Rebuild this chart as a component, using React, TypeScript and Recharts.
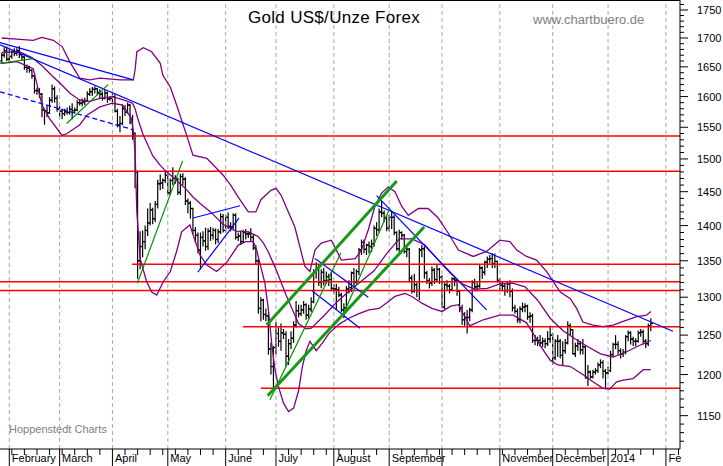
import React from 'react';
import { ComposedChart, XAxis, YAxis, Bar, Line, ReferenceLine } from 'recharts';

const W = 723;
const H = 466;
const FONT = '"Liberation Sans", Arial, sans-serif';
const X_DOMAIN: [number, number] = [-3.7, 266.6];
const Y_DOMAIN: [number, number] = [1111, 1768.2];

// trading-day index 0 = 1 Feb 2013; first bar = 29 Jan 2013
const FIRST_DAY = -3;

const opens = [
  1660, 1670, 1678,
  1663, 1668, 1676, 1673, 1678, 1671, 1667, 1649, 1648, 1644, 1635, 1610, 1610, 1604, 1578, 1576, 1573, 1594, 1613, 1597,
  1579, 1576, 1572, 1575, 1574, 1579, 1577, 1578, 1590, 1589, 1591, 1593, 1604, 1608, 1612, 1613, 1607, 1604, 1597, 1606, 1596,
  1597, 1600, 1576, 1554, 1556, 1580, 1574, 1586, 1562, 1540, 1480, 1350, 1370, 1377, 1393, 1404, 1423, 1410, 1431, 1462, 1463, 1467,
  1475, 1448, 1467, 1470, 1469, 1449, 1473, 1469, 1436, 1433, 1425, 1393, 1386, 1365, 1383, 1378, 1370, 1392, 1386, 1393, 1380, 1391, 1413,
  1393, 1412, 1399, 1398, 1415, 1383, 1385, 1377, 1390, 1388, 1388, 1383, 1368, 1350, 1285, 1296, 1277, 1275, 1232, 1210,
  1234, 1252, 1242, 1253, 1251, 1223, 1239, 1246, 1263, 1282, 1278, 1283, 1290, 1276, 1284, 1294, 1334, 1340, 1320, 1334, 1322, 1328, 1324,
  1312, 1311, 1310, 1303, 1283, 1286, 1311, 1313, 1333, 1320, 1335, 1365, 1376, 1366, 1372, 1370, 1374, 1396, 1394, 1420, 1418, 1411,
  1396, 1412, 1412, 1390, 1367, 1390, 1386, 1363, 1366, 1326, 1308, 1317, 1309, 1365, 1367, 1333, 1322, 1319, 1337, 1324, 1338,
  1327, 1287, 1317, 1315, 1310, 1325, 1323, 1308, 1286, 1270, 1273, 1273, 1283, 1320, 1314, 1315, 1340, 1334, 1348, 1352, 1353, 1346, 1349,
  1323, 1316, 1315, 1309, 1318, 1308, 1286, 1281, 1270, 1284, 1287, 1288, 1274, 1275, 1243, 1243, 1243, 1240, 1242, 1239, 1245,
  1250, 1221, 1242, 1242, 1224, 1230, 1240, 1262, 1257, 1226, 1236, 1239, 1231, 1235, 1196, 1203, 1197, 1203, 1205, 1212, 1215, 1204,
  1202, 1205, 1225, 1238, 1238, 1230, 1226, 1228, 1248, 1253, 1245, 1242, 1242, 1253, 1254, 1242, 1239, 1262,
];
const highs = [
  1674, 1684, 1685,
  1680, 1678, 1682, 1682, 1686, 1672, 1668, 1654, 1652, 1646, 1637, 1615, 1614, 1606, 1580, 1586, 1599, 1620, 1617, 1602,
  1584, 1580, 1580, 1582, 1585, 1589, 1582, 1594, 1596, 1597, 1598, 1609, 1614, 1616, 1617, 1614, 1612, 1608, 1611, 1608, 1600,
  1605, 1604, 1580, 1568, 1588, 1586, 1590, 1588, 1570, 1542, 1482, 1392, 1393, 1400, 1425, 1433, 1426, 1436, 1468, 1476, 1470, 1480,
  1478, 1470, 1487, 1475, 1471, 1477, 1478, 1472, 1440, 1436, 1426, 1398, 1390, 1390, 1392, 1397, 1396, 1398, 1397, 1396, 1395, 1418, 1417,
  1416, 1419, 1405, 1418, 1418, 1390, 1393, 1394, 1395, 1392, 1396, 1388, 1372, 1352, 1300, 1298, 1285, 1278, 1240, 1236,
  1267, 1260, 1265, 1258, 1255, 1245, 1255, 1268, 1295, 1290, 1290, 1295, 1292, 1290, 1300, 1338, 1348, 1345, 1338, 1340, 1335, 1332, 1335,
  1318, 1318, 1314, 1306, 1292, 1315, 1323, 1335, 1340, 1338, 1368, 1380, 1380, 1374, 1377, 1380, 1400, 1405, 1425, 1436, 1422, 1415,
  1416, 1420, 1415, 1392, 1394, 1392, 1388, 1370, 1368, 1330, 1332, 1320, 1368, 1372, 1370, 1336, 1326, 1342, 1340, 1344, 1340,
  1330, 1320, 1323, 1318, 1327, 1328, 1325, 1310, 1290, 1280, 1283, 1286, 1323, 1325, 1320, 1345, 1342, 1350, 1356, 1358, 1361, 1360, 1350,
  1326, 1322, 1318, 1322, 1323, 1312, 1290, 1285, 1288, 1293, 1292, 1290, 1280, 1278, 1250, 1248, 1250, 1247, 1246, 1255, 1262,
  1253, 1245, 1250, 1245, 1242, 1245, 1268, 1265, 1258, 1240, 1245, 1242, 1245, 1236, 1212, 1205, 1206, 1208, 1215, 1219, 1218, 1207,
  1210, 1230, 1240, 1250, 1242, 1233, 1232, 1250, 1256, 1255, 1248, 1246, 1256, 1258, 1257, 1245, 1265, 1272,
];
const lows = [
  1656, 1666, 1660,
  1658, 1664, 1668, 1669, 1665, 1660, 1645, 1640, 1640, 1630, 1605, 1603, 1598, 1566, 1554, 1566, 1572, 1590, 1590, 1575,
  1566, 1563, 1568, 1570, 1570, 1563, 1572, 1576, 1585, 1584, 1586, 1591, 1601, 1601, 1605, 1602, 1597, 1593, 1595, 1590, 1593,
  1590, 1574, 1550, 1542, 1553, 1568, 1572, 1555, 1530, 1455, 1325, 1338, 1355, 1366, 1385, 1400, 1402, 1405, 1425, 1452, 1454, 1463,
  1445, 1445, 1460, 1462, 1445, 1445, 1460, 1430, 1418, 1410, 1388, 1375, 1360, 1338, 1370, 1364, 1365, 1378, 1380, 1373, 1375, 1388, 1390,
  1390, 1395, 1392, 1395, 1380, 1378, 1372, 1375, 1380, 1382, 1378, 1365, 1345, 1278, 1268, 1270, 1268, 1225, 1200, 1180,
  1225, 1235, 1230, 1245, 1210, 1212, 1232, 1240, 1260, 1273, 1275, 1278, 1270, 1272, 1280, 1292, 1325, 1315, 1312, 1316, 1318, 1315, 1308,
  1305, 1283, 1300, 1280, 1272, 1284, 1305, 1307, 1315, 1317, 1330, 1358, 1360, 1358, 1360, 1362, 1370, 1385, 1390, 1412, 1405, 1392,
  1392, 1395, 1386, 1364, 1362, 1380, 1360, 1355, 1320, 1305, 1306, 1300, 1296, 1355, 1325, 1318, 1312, 1315, 1318, 1320, 1318,
  1286, 1284, 1310, 1305, 1308, 1315, 1302, 1280, 1263, 1262, 1252, 1268, 1280, 1308, 1308, 1312, 1325, 1330, 1340, 1346, 1340, 1340, 1320,
  1310, 1308, 1302, 1306, 1300, 1281, 1278, 1266, 1265, 1280, 1280, 1270, 1266, 1240, 1237, 1236, 1235, 1235, 1233, 1236, 1240,
  1212, 1218, 1222, 1220, 1212, 1226, 1238, 1250, 1225, 1222, 1230, 1225, 1225, 1195, 1186, 1195, 1195, 1200, 1202, 1208, 1195, 1182,
  1200, 1203, 1222, 1232, 1225, 1220, 1222, 1225, 1242, 1238, 1236, 1236, 1240, 1248, 1238, 1233, 1236, 1255,
];
const closes = [
  1670, 1678, 1663,
  1668, 1676, 1673, 1678, 1671, 1667, 1649, 1648, 1644, 1635, 1610, 1610, 1604, 1578, 1576, 1573, 1594, 1613, 1597, 1579,
  1576, 1572, 1575, 1574, 1579, 1577, 1578, 1590, 1589, 1591, 1593, 1604, 1608, 1612, 1613, 1607, 1604, 1597, 1606, 1596, 1597,
  1600, 1576, 1554, 1556, 1580, 1574, 1586, 1558, 1540, 1480, 1350, 1370, 1377, 1393, 1404, 1423, 1410, 1431, 1462, 1463, 1467, 1475,
  1448, 1467, 1470, 1469, 1449, 1473, 1469, 1436, 1433, 1425, 1393, 1386, 1365, 1383, 1378, 1370, 1392, 1386, 1393, 1380, 1391, 1413, 1393,
  1412, 1399, 1398, 1415, 1383, 1385, 1377, 1390, 1388, 1388, 1383, 1368, 1350, 1285, 1296, 1277, 1275, 1232, 1210, 1234,
  1252, 1242, 1253, 1251, 1223, 1239, 1246, 1263, 1282, 1278, 1283, 1290, 1276, 1284, 1294, 1334, 1340, 1320, 1334, 1322, 1328, 1324, 1312,
  1311, 1310, 1303, 1283, 1286, 1311, 1313, 1333, 1320, 1335, 1365, 1376, 1366, 1372, 1370, 1374, 1396, 1394, 1420, 1418, 1411, 1396,
  1412, 1412, 1390, 1367, 1390, 1386, 1363, 1366, 1326, 1308, 1317, 1309, 1365, 1367, 1333, 1322, 1319, 1337, 1324, 1338, 1327,
  1287, 1317, 1315, 1310, 1325, 1323, 1308, 1286, 1270, 1273, 1273, 1283, 1320, 1314, 1315, 1340, 1334, 1348, 1352, 1353, 1346, 1349, 1323,
  1316, 1315, 1309, 1318, 1308, 1286, 1281, 1270, 1284, 1287, 1288, 1274, 1275, 1243, 1243, 1243, 1240, 1242, 1239, 1245, 1250,
  1221, 1242, 1242, 1224, 1230, 1240, 1262, 1257, 1226, 1236, 1239, 1231, 1235, 1196, 1203, 1197, 1203, 1205, 1212, 1215, 1204, 1202,
  1205, 1225, 1238, 1238, 1230, 1226, 1228, 1248, 1253, 1245, 1242, 1242, 1253, 1254, 1242, 1239, 1262, 1265,
];

// Bollinger bands: [trading day, value]
const upperBand = [
  [-3, 1700], [3, 1698], [9.5, 1696], [13, 1701], [17.5, 1696], [21, 1685], [24, 1659], [28, 1631], [32, 1628], [36, 1631],
  [44, 1628], [49.3, 1628], [50, 1645], [50.7, 1676], [53.3, 1683], [56.6, 1676], [60, 1656], [61, 1636], [64, 1616], [66.5, 1586],
  [70.5, 1537], [73, 1506], [78.5, 1501], [81, 1491], [85, 1475], [88, 1460], [91, 1442], [95, 1420], [98, 1420], [100, 1438],
  [104, 1452], [106, 1455], [108, 1445], [113.5, 1398], [117.5, 1342], [119.5, 1335], [121.5, 1365], [124, 1375], [128, 1379],
  [132, 1351], [137.5, 1353], [140, 1365], [142.7, 1394], [145.3, 1428], [148, 1448], [150.6, 1457], [153.3, 1450], [156, 1428],
  [158.6, 1415], [162.6, 1425], [166.5, 1425], [170.5, 1411], [174.5, 1389], [178.5, 1365], [184.4, 1356], [189.7, 1363],
  [195, 1379], [199, 1377], [201.7, 1365], [205.6, 1356], [209.6, 1351], [213.6, 1335], [219, 1307], [223, 1298], [225.5, 1285],
  [228, 1267], [232, 1263], [236, 1261], [240, 1263], [244, 1268], [249.4, 1274], [253.3, 1276], [255, 1281],
];
const middleBand = [
  [-3, 1675], [4, 1676], [9, 1666], [13, 1652], [17, 1635], [20, 1623], [24, 1606], [28, 1594], [32, 1592], [36, 1597],
  [41, 1600], [45, 1595], [49, 1589], [50, 1580], [51, 1565], [53, 1540], [57, 1505], [60, 1490], [62, 1482], [65, 1472],
  [67, 1465], [70, 1455], [73, 1442], [76, 1432], [80, 1420], [85, 1402], [90, 1392], [95, 1391], [99, 1384], [101, 1375],
  [103, 1362], [106, 1338], [110, 1303], [113, 1280], [115, 1265], [118, 1258], [120, 1259], [125, 1275], [130, 1293],
  [135, 1308], [140, 1322], [145, 1336], [150, 1360], [155, 1381], [160, 1381], [165, 1373], [170, 1353], [175, 1334],
  [180, 1318], [185, 1311], [190, 1312], [195, 1318], [200, 1319], [205, 1314], [210, 1296], [215, 1272], [220, 1256],
  [225, 1245], [230, 1235], [235, 1226], [240, 1222], [245, 1228], [250, 1236], [255, 1243],
];
const lowerBand = [
  [-3, 1656], [3, 1659], [9.5, 1647], [13, 1586], [16, 1564], [21, 1537], [23, 1540], [28, 1554], [31, 1570], [36, 1583],
  [41, 1589], [45, 1586], [48.6, 1564], [49.3, 1543], [50, 1511], [50.7, 1420], [52, 1353], [54.6, 1321], [56.6, 1307],
  [58.6, 1303], [61.2, 1321], [64, 1335], [66.5, 1363], [68.5, 1391], [71.8, 1401], [73, 1387], [75.8, 1358], [78.5, 1344],
  [82.4, 1335], [86.5, 1348], [91, 1372], [94, 1377], [97, 1377], [98.3, 1365], [100.3, 1337], [101.6, 1319], [103, 1283],
  [104.3, 1239], [105.6, 1206], [107, 1185], [109, 1165], [111, 1155], [113, 1159], [115, 1180], [116.5, 1210], [118, 1230],
  [119.5, 1242], [122, 1230], [124.5, 1240], [127, 1252], [131, 1264], [135, 1272], [139, 1278], [143, 1283], [147, 1285],
  [150.6, 1294], [153.3, 1301], [157.3, 1305], [160, 1301], [164, 1292], [168, 1285], [172, 1281], [175.5, 1288],
  [178.5, 1290], [183, 1262], [188.4, 1270], [195, 1276], [200.3, 1276], [205.6, 1266], [209, 1248], [212, 1232],
  [215, 1218], [218, 1212], [223, 1210], [228, 1200], [232, 1191], [236, 1183], [238.7, 1182], [241.4, 1191], [244, 1193],
  [248, 1195], [252, 1206], [255, 1206],
];

// horizontal support / resistance lines
const redFull = [1536, 1481, 1321, 1309];
const redPartial = [
  [48.8, 1345],
  [92.9, 1261],
  [100, 1183],
];
// trend lines: [day1, value1, day2, value2]
const blueLines = [
  [-3.7, 1688, 263.8, 1255],
  [-3.7, 1692, 49.3, 1628],
  [73.1, 1411, 91.7, 1429],
  [74.9, 1334, 91.3, 1411],
  [121.5, 1353, 142.7, 1300],
  [120.2, 1309, 139.4, 1259],
  [146.0, 1444, 189.7, 1283],
];
const blueDashed = [[-3.7, 1608, 49.3, 1546]];
const greenThin = [
  [-3.7, 1656, 9.5, 1664],
  [22.8, 1556, 39.3, 1620],
  [50.9, 1319, 68.9, 1497],
  [103.6, 1169, 131.8, 1361],
  [132.6, 1276, 151.3, 1426],
];
const greenThick = [
  [102.3, 1263, 154, 1466],
  [102.7, 1174, 164.9, 1398],
];

const monthStarts = [0, 20, 41, 63, 86, 106, 129, 151, 172, 195, 216, 238, 261];
const monthLabels = ['February', 'March', 'April', 'May', 'June', 'July', 'August', 'September', '', 'November', 'December', '2014', 'Fe'];
const weekTicks = [
  1, 6, 11, 16, 21, 26, 31, 36, 46, 51, 56, 61, 66, 71, 76, 81, 91, 96, 101, 111, 116, 121, 126, 131, 136, 141, 146,
  156, 161, 166, 171, 176, 181, 186, 191, 196, 201, 206, 211, 221, 226, 231, 236, 241, 246, 251, 256, 266,
];
const xTicks = [...monthStarts, ...weekTicks].sort((a, b) => a - b);
const yTicks = [
  1120, 1130, 1140, 1150, 1160, 1170, 1180, 1190, 1200, 1210, 1220, 1230, 1240, 1250, 1260, 1270, 1280, 1290,
  1300, 1310, 1320, 1330, 1340, 1350, 1360, 1370, 1380, 1390, 1400, 1410, 1420, 1430, 1440, 1450, 1460, 1470,
  1480, 1490, 1500, 1510, 1520, 1530, 1540, 1550, 1560, 1570, 1580, 1590, 1600, 1610, 1620, 1630, 1640, 1650,
  1660, 1670, 1680, 1690, 1700, 1710, 1720, 1730, 1740, 1750, 1760,
];

const bars = closes.map((c, i) => ({
  d: FIRST_DAY + i,
  o: opens[i],
  h: highs[i],
  l: lows[i],
  c,
  hl: [lows[i], highs[i]],
}));
const toPts = (arr: number[][]) => arr.map(([d, v]) => ({ d, v }));

function OhlcShape(props: any) {
  const { x, y, width, height, payload } = props;
  if (x == null || y == null || !payload) return null;
  const cx = x + width / 2;
  const top = Math.min(y, y + height);
  const bot = Math.max(y, y + height);
  const span = Math.log(payload.h / payload.l) || 1;
  const yo = top + ((bot - top) * Math.log(payload.h / payload.o)) / span;
  const yc = top + ((bot - top) * Math.log(payload.h / payload.c)) / span;
  return (
    <g stroke="#000" strokeWidth={1.2}>
      <line x1={cx} x2={cx} y1={top} y2={bot} />
      <line x1={cx - 2.2} x2={cx} y1={yo} y2={yo} />
      <line x1={cx} x2={cx + 2.2} y1={yc} y2={yc} />
    </g>
  );
}

function XTick(props: any) {
  const { x, y, payload } = props;
  const v = payload.value;
  const idx = monthStarts.indexOf(v);
  if (idx >= 0) {
    return (
      <g>
        <line x1={x} x2={x} y1={y} y2={y + 17} stroke="#000" strokeWidth={1} />
        <text x={x + 2.5} y={y + 13} fontSize={11} fontFamily={FONT} fill="#000">
          {monthLabels[idx]}
        </text>
      </g>
    );
  }
  return <line x1={x} x2={x} y1={y} y2={y + 6} stroke="#000" strokeWidth={1} />;
}

function YTick(props: any) {
  const { x, y, payload } = props;
  const v = payload.value;
  const major = v % 50 === 0;
  return (
    <g>
      <line x1={x} x2={x + (major ? 8 : 4)} y1={y} y2={y} stroke="#000" strokeWidth={1} />
      {major && (
        <text x={x + 17} y={y + 4} fontSize={11} fontFamily={FONT} fill="#000">
          {v}
        </text>
      )}
    </g>
  );
}

const seg = (s: number[]) => [
  { x: s[0], y: s[1] },
  { x: s[2], y: s[3] },
];

export default function App() {
  return (
    <div style={{ position: 'absolute', left: 0, top: 0, width: W, height: H, background: '#fff' }}>
      <ComposedChart width={W} height={H} data={bars} margin={{ top: 0, right: 0, bottom: 0, left: 0 }}>
        <XAxis
          dataKey="d"
          type="number"
          domain={X_DOMAIN}
          allowDataOverflow
          ticks={xTicks}
          interval={0}
          tick={(p: any) => <XTick {...p} />}
          tickLine={false}
          tickSize={0}
          tickMargin={0}
          axisLine={{ stroke: '#000' }}
          height={17}
        />
        <YAxis
          orientation="right"
          type="number"
          scale="log"
          domain={Y_DOMAIN}
          allowDataOverflow
          ticks={yTicks}
          interval={0}
          tick={(p: any) => <YTick {...p} />}
          tickLine={false}
          tickSize={0}
          tickMargin={0}
          axisLine={{ stroke: '#000' }}
          width={43}
        />
        {monthStarts.map((d) => (
          <ReferenceLine key={'g' + d} x={d} stroke="#a8a8a8" strokeDasharray="4 3" strokeWidth={1} />
        ))}
        <ReferenceLine y={Y_DOMAIN[1]} stroke="#000" strokeWidth={2} />
        {redFull.map((v) => (
          <ReferenceLine key={'r' + v} y={v} stroke="#ff0000" strokeWidth={1.5} />
        ))}
        {redPartial.map(([d, v]) => (
          <ReferenceLine
            key={'rp' + v}
            segment={[
              { x: d, y: v },
              { x: X_DOMAIN[1], y: v },
            ]}
            stroke="#ff0000"
            strokeWidth={1.5}
            ifOverflow="hidden"
          />
        ))}
        <Line data={toPts(upperBand)} dataKey="v" type="linear" stroke="#800080" strokeWidth={1.3} dot={false} activeDot={false} isAnimationActive={false} />
        <Line data={toPts(middleBand)} dataKey="v" type="linear" stroke="#800080" strokeWidth={1.3} dot={false} activeDot={false} isAnimationActive={false} />
        <Line data={toPts(lowerBand)} dataKey="v" type="linear" stroke="#800080" strokeWidth={1.3} dot={false} activeDot={false} isAnimationActive={false} />
        <Bar dataKey="hl" barSize={3} shape={(p: any) => <OhlcShape {...p} />} isAnimationActive={false} />
        {blueLines.map((s, i) => (
          <ReferenceLine key={'b' + i} segment={seg(s)} stroke="#0000ff" strokeWidth={1.2} ifOverflow="hidden" />
        ))}
        {blueDashed.map((s, i) => (
          <ReferenceLine key={'bd' + i} segment={seg(s)} stroke="#0000ff" strokeWidth={1.3} strokeDasharray="5 3" ifOverflow="hidden" />
        ))}
        {greenThin.map((s, i) => (
          <ReferenceLine key={'gt' + i} segment={seg(s)} stroke="#009000" strokeWidth={1.2} ifOverflow="hidden" />
        ))}
        {greenThick.map((s, i) => (
          <ReferenceLine key={'gk' + i} segment={seg(s)} stroke="#159a15" strokeWidth={3} ifOverflow="hidden" />
        ))}
      </ComposedChart>
      <svg width={W} height={H} style={{ position: 'absolute', left: 0, top: 0, pointerEvents: 'none' }}>
        <text x={248} y={23} fontSize={17} letterSpacing={0.3} fontFamily={FONT} fill="#000">
          Gold US$/Unze Forex
        </text>
        <text x={533} y={24} fontSize={13} fontFamily={FONT} fill="#808080">
          www.chartbuero.de
        </text>
        <text x={9} y={433} fontSize={11} fontFamily={FONT} fill="#808080">
          Hoppenstedt Charts
        </text>
      </svg>
    </div>
  );
}
